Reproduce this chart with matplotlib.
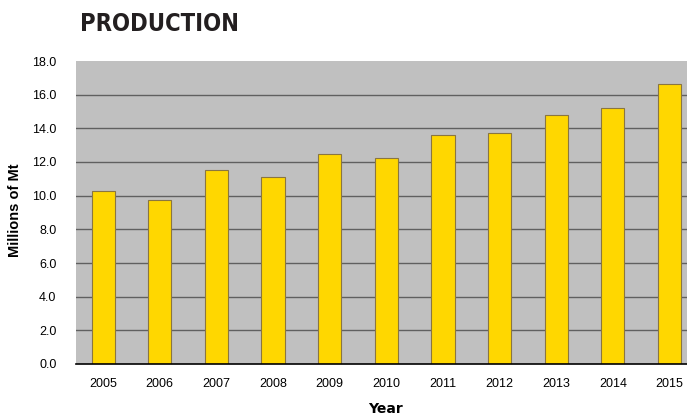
import matplotlib
matplotlib.use("Agg")
import matplotlib.pyplot as plt

years = ["2005", "2006", "2007", "2008", "2009", "2010", "2011", "2012", "2013", "2014", "2015"]
production = [10.3, 9.75, 11.5, 11.1, 12.45, 12.25, 13.6, 13.75, 14.8, 15.2, 16.65]
yticks = [0, 2, 4, 6, 8, 10, 12, 14, 16, 18]

fig = plt.figure(figsize=(6.87, 4.16), dpi=100)
ax = fig.add_axes([76/687, 52/416, 611/687, 303/416])
ax.set_facecolor("#c0c0c0")

x = list(range(len(years)))
ax.bar(x, production, width=0.41, color="#ffd700", edgecolor="#8a7640", linewidth=0.8, zorder=3)

ax.set_xlim(-0.48, 10.31)
ax.set_ylim(0, 18)
ax.set_yticks(yticks)
ax.set_yticklabels([f"{v:.1f}" for v in yticks], family=["Liberation Sans", "DejaVu Sans"], fontsize=9)
ax.set_xticks(x)
ax.set_xticklabels(years, family=["Liberation Sans", "DejaVu Sans"], fontsize=9)
ax.tick_params(axis="both", length=0)
ax.tick_params(axis="y", pad=14)
ax.tick_params(axis="x", pad=10)

for v in yticks[1:-1]:
    ax.axhline(v, color="#606060", linewidth=1.0, zorder=1)

for s in ["top", "right", "left"]:
    ax.spines[s].set_visible(False)
ax.spines["bottom"].set_color("#000000")
ax.spines["bottom"].set_linewidth(1.2)
ax.spines["bottom"].set_zorder(4)

fig.text(15/687, 1 - 210/416, "Millions of Mt", rotation=90, ha="center", va="center",
         fontsize=10.5, fontweight="bold", family=["Liberation Sans", "DejaVu Sans"])
fig.text(385/687, 1 - 409/416, "Year", ha="center", va="center",
         fontsize=10, fontweight="bold", family=["DejaVu Sans"])
fig.text(80/687, 1 - 24/416, "PRODUCTION", ha="left", va="center",
         fontsize=17, fontweight="bold", fontstretch="condensed", color="#231f20",
         family=["DejaVu Sans"])

fig.savefig("out.png", dpi=100)
